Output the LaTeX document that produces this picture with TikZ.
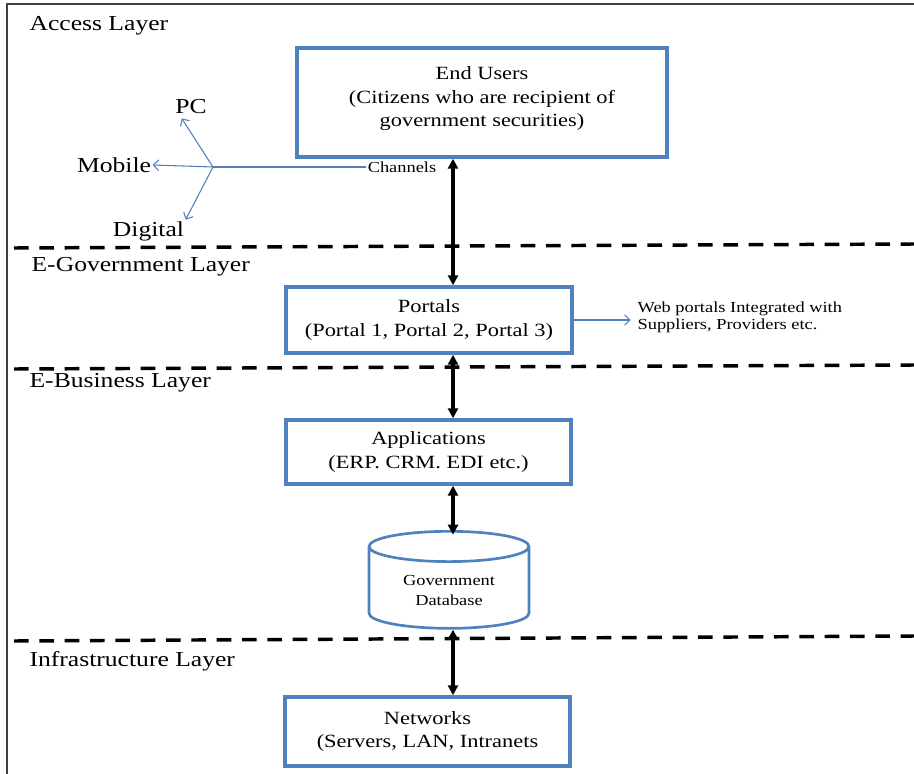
\documentclass[tikz,border=0pt]{standalone}
\usepackage{fontspec}
\setmainfont{Liberation Serif}[FakeStretch=1.2]
\usetikzlibrary{arrows.meta,shapes.geometric}

\definecolor{boxblue}{RGB}{79,129,189}

\tikzset{
  blk/.style={draw=boxblue, line width=2.6pt, align=center, inner sep=2pt, font=\fontsize{14}{17.5}\selectfont},
  dbase/.style={draw=boxblue, line width=2pt, cylinder, shape border rotate=90, aspect=0.3, align=center, font=\fontsize{11.5}{15}\selectfont},
  lyr/.style={anchor=west, inner sep=1pt, font=\fontsize{16}{19}\selectfont},
  dev/.style={inner sep=1pt, font=\fontsize{16}{19}\selectfont},
  note/.style={inner sep=1pt, align=left, font=\fontsize{11.5}{12.5}\selectfont},
  chan/.style={draw=boxblue, line width=0.8pt, -{Straight Barb[length=4pt,width=8pt]}},
  link/.style={line width=2.8pt, {Triangle[length=7.5pt,width=7.5pt]}-{Triangle[length=7.5pt,width=7.5pt]}},
  divider/.style={line width=2.6pt, dash pattern=on 11pt off 8pt},
}

\begin{document}
\begin{tikzpicture}[x=0.75pt, y=-0.75pt]
\useasboundingbox (0,0) rectangle (914,774);

%% frame and layer borders
\draw[line width=1pt, black!75] (7,774) -- (7,4) -- (914,4);
\draw[divider] (14,248) -- (914,244);
\draw[divider] (14,369) -- (914,365);
\draw[divider] (14,641) -- (914,636);

\node[lyr] (lyr_access) at (28,26) {Access Layer};
\node[lyr] (lyr_egov) at (30,267) {E-Government Layer};
\node[lyr] (lyr_ebus) at (28,383) {E-Business Layer};
\node[lyr] (lyr_infra) at (28,661) {Infrastructure Layer};

%% main stack
\node[blk, minimum width=277.5pt, minimum height=81.75pt] (end_users) at (482,102.5) {End Users\\(Citizens who are recipient of\\government securities)\\[-9pt]};
\node[blk, minimum width=214.5pt, minimum height=49.5pt] (portals) at (429,320) {Portals\\(Portal 1, Portal 2, Portal 3)};
\node[blk, minimum width=213.75pt, minimum height=48pt] (apps) at (428.5,452) {Applications\\(ERP. CRM. EDI etc.)};
\node[dbase, minimum width=120pt, minimum height=72.75pt, anchor=north] (gov_db) at (449,530) {Government\\Database};
\node[blk, minimum width=213.75pt, minimum height=51.75pt] (networks) at (427.5,731.5) {Networks\\(Servers, LAN, Intranets};

\coordinate (spine) at (453,0);
\draw[link] (end_users.south -| spine) -- (portals.north -| spine);
\draw[link] (portals.south -| spine) -- (apps.north -| spine);
\draw[link] (apps.south -| spine) -- ([yshift=-3.5pt]gov_db.north -| spine);
\draw[link] (gov_db.south -| spine) -- (networks.north -| spine);

% web portals
\node[note, anchor=west] (web_portals) at (636,317) {Web portals Integrated with\\Suppliers, Providers etc.};
\draw[chan, shorten >=4pt] (portals.east) -- (portals.east -| web_portals.west);

%% CHANNELS
\node[note] (channels) at (402,167) {Channels};
\node[dev] (ch_pc) at (191,107) {PC};
\node[dev] (ch_mobile) at (114,165) {Mobile};
\node[dev] (ch_digital) at (148.5,231) {Digital};
\coordinate (hub) at (213,167);

\draw[boxblue, line width=0.8pt] (channels.west) -- (hub);
\draw[chan] (hub) -- ([xshift=6pt,yshift=-2pt]ch_pc.south west);
\draw[chan] (hub) -- (ch_mobile.east);
\draw[chan] (hub) -- (ch_digital.north east);

\end{tikzpicture}
\end{document}
